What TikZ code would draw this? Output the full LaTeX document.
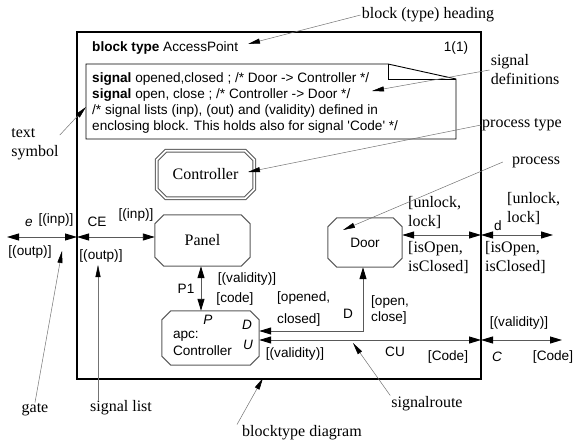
\documentclass[tikz,border=0pt]{standalone}
\usepackage{fontspec}
\setmainfont{Liberation Serif}
\setsansfont{Liberation Sans}
\usetikzlibrary{arrows.meta}

\newcommand\sdlsize{\fontsize{13.6}{16.2}\selectfont}
\newcommand\notesize{\fontsize{16}{19}\selectfont}
% octagon round a named node: #1 extra options, #2 node name
\newcommand\octagon[2]{%
  \draw[procline,#1] ([xshift=9pt]#2.north west) -- ([xshift=-9pt]#2.north east)
    -- ([yshift=-9pt]#2.north east) -- ([yshift=9pt]#2.south east)
    -- ([xshift=-9pt]#2.south east) -- ([xshift=9pt]#2.south west)
    -- ([yshift=9pt]#2.south west) -- ([yshift=-9pt]#2.north west) -- cycle;}

\begin{document}
\begin{tikzpicture}[x=1pt, y=-1pt,
    proc/.style={rectangle, inner sep=0pt},
    procline/.style={draw=black!65, line width=1pt},
    chan/.style={draw=black!65, line width=0.9pt,
        {Triangle[length=12pt,width=7pt,black]}-{Triangle[length=12pt,width=7pt,black]}},
    note/.style={draw=black!55, line width=0.5pt,
        -{Triangle[length=12pt,width=5pt,black]}},
    lab/.style={font=\sffamily\sdlsize, inner sep=1pt},
    slab/.style={font=\notesize, inner sep=1pt, align=left}
]
\useasboundingbox (0,0) rectangle (577,443);

% Block frame and heading
\draw[line width=1.2pt] (77,32) rectangle (481,379);
\node[lab, anchor=west] (heading) at (91,48) {\textbf{block type} AccessPoint};
\node[lab] (page) at (456,48) {1(1)};

% Text symbol with signal definitions
\draw[line width=0.9pt] (86,64) -- (388,64) -- (456,79) -- (456,139) -- (86,139) -- cycle;
\draw[line width=0.9pt] (388,64) -- (388,79) -- (456,79);
\node[lab, anchor=north west, align=left, inner sep=0pt] (sigdefs) at (92,72)
    {\textbf{signal} opened,closed ; /* Door -> Controller */\\
     \textbf{signal} open, close ; /* Controller -> Door */\\
     /* signal lists (inp), (out) and (validity) defined in\\
     enclosing block. This holds also for signal \textquotesingle Code\textquotesingle{} */};

% Processes
\node[proc, minimum width=97pt, minimum height=47pt, font=\notesize] (ctrltype) at (205.5,174.5) {Controller};
\node[proc, minimum width=95pt, minimum height=51pt, font=\notesize] (panel) at (202.5,240.5) {Panel};
\node[proc, minimum width=74pt, minimum height=49pt, font=\sffamily\sdlsize] (door) at (365,242.5) {Door};
\node[proc, minimum width=97pt, minimum height=54pt, text width=75pt, align=left,
    font=\sffamily\sdlsize] (apc) at (210.5,338) {\\[2pt]apc:\\Controller};
\octagon{double, double distance=1.8pt}{ctrltype}
\octagon{}{panel}
\octagon{}{door}
\octagon{}{apc}
\node[lab] (portP) at (208,320) {\textit{P}};
\node[lab] (portD) at (247,325) {\textit{D}};
\node[lab] (portU) at (248,345) {\textit{U}};

% Gates
\coordinate (gateE) at (77,237);
\coordinate (endE) at (7,237);
\coordinate (gateD) at (481,235);
\coordinate (endD) at (553,235);
\coordinate (gateC) at (481,340);
\coordinate (endC) at (562,340);
\coordinate (p1x) at (201,0);
\coordinate (bendD) at (363,331);

% Channels and signalroutes
\draw[chan] (endE) -- (gateE);
\draw[chan] (gateE) -- (gateE -| panel.west);
\draw[chan] (door.east |- gateD) -- (gateD);
\draw[chan] (gateD) -- (endD);
\draw[chan] (panel.south -| p1x) -- (apc.north -| p1x);
\draw[chan] (door.south -| bendD) -- (bendD) -- (bendD -| apc.east);
\draw[chan] (gateC -| apc.east) -- (gateC);
\draw[chan] (gateC) -- (endC);

% Channel labels
\node[lab] (nameE) at (29,223) {\textit{e}};
\node[lab] (inE) at (56,220) {[(inp)]};
\node[lab] (outE) at (30,252) {[(outp)]};
\node[lab] (nameCE) at (97,222) {CE};
\node[lab] (inCE) at (136,215) {[(inp)]};
\node[lab] (outCE) at (101,256) {[(outp)]};
\node[lab] (nameP1) at (186,289) {P1};
\node[lab] (valP1) at (247,279) {[(validity)]};
\node[lab] (codeP1) at (235,299) {[code]};
\node[lab, anchor=west, align=left, font=\sffamily\fontsize{13.6}{22}\selectfont] (toC) at (276,309) {[opened,\\closed]};
\node[lab] (nameD) at (348,314) {D};
\node[lab, anchor=west, align=left] (toD) at (370,310) {[open,\\close]};
\node[lab] (valCU) at (295,354) {[(validity)]};
\node[lab] (nameCU) at (395,352) {CU};
\node[lab] (codeCU) at (448,357) {[Code]};
\node[lab] (valC) at (519,323) {[(validity)]};
\node[lab] (nameC) at (497,357) {\textit{C}};
\node[lab] (codeC) at (553,357) {[Code]};
\node[lab] (named) at (498,226) {d};
\node[slab, anchor=west] (inDoor) at (407,213) {[unlock,\\lock]};
\node[slab, anchor=west] (outDoor) at (407,258) {[isOpen,\\isClosed]};
\node[slab, anchor=west] (ind) at (506,209) {[unlock,\\lock]};
\node[slab, anchor=west] (outd) at (484,258) {[isOpen,\\isClosed]};

% Annotations
\node[slab] (lblHeading) at (428,15) {block (type) heading};
\node[slab] (lblSignals) at (525,70) {signal\\definitions};
\node[slab] (lblPType) at (522,125) {process type};
\node[slab] (lblProc) at (536,162) {process};
\node[slab] (lblText) at (35,144) {text\\symbol};
\node[slab] (lblGate) at (35,410) {gate};
\node[slab] (lblList) at (121,408) {signal list};
\node[slab] (lblDiagram) at (302,433) {blocktype diagram};
\node[slab] (lblRoute) at (427,404) {signalroute};

\coordinate (tHeading) at (248,44);
\coordinate (tSignals) at (372,91);
\coordinate (tPType) at (248,172);
\coordinate (tProc) at (343,230);
\coordinate (tText) at (86,107);
\coordinate (tGate) at (62,251);
\coordinate (tList) at (98,265);
\coordinate (tDiagram) at (263,378);
\coordinate (tRoute) at (353,343);

\draw[note] (lblHeading.west) -- (tHeading);
\draw[note] (lblSignals.west) -- (tSignals);
\draw[note] (lblPType.west) -- (tPType);
\draw[note] ([xshift=-8pt]lblProc.west) -- (tProc);
\draw[note] ([yshift=-8pt]lblText.north east) -- (tText);
\draw[note] (lblGate.north) -- (tGate);
\draw[note] (lblList.north -| tList) -- (tList);
\draw[note] ([xshift=-65pt]lblDiagram.north) -- (tDiagram);
\draw[note] (lblRoute.north west) -- (tRoute);

\end{tikzpicture}
\end{document}
